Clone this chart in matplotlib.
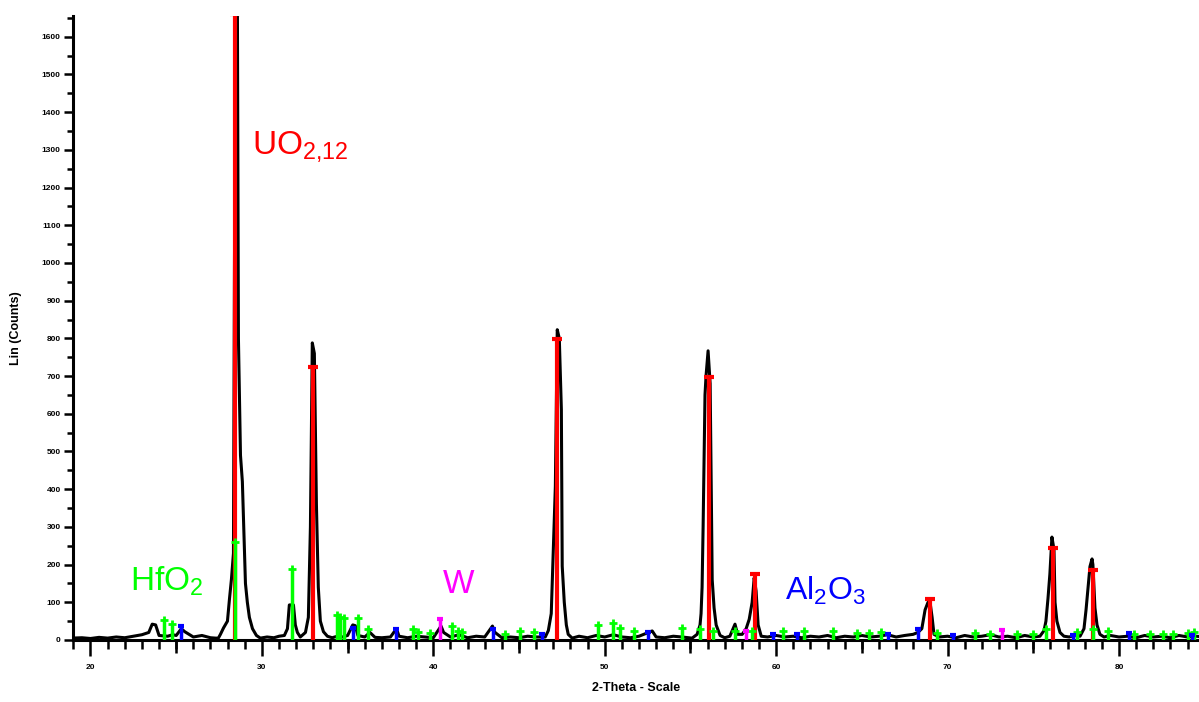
import numpy as np
import matplotlib
matplotlib.use("Agg")
import matplotlib.pyplot as plt
from matplotlib.ticker import MultipleLocator, FixedLocator, NullFormatter

plt.rcParams['font.family'] = ['Liberation Sans', 'DejaVu Sans']
plt.rcParams['mathtext.fontset'] = 'custom'
plt.rcParams['mathtext.rm'] = 'Liberation Sans'
plt.rcParams['mathtext.it'] = 'Liberation Sans'

# measured pattern (2-theta, counts)
two_theta = [18.9, 19.5, 20.0, 20.5, 21.0, 21.5, 22.0, 22.5, 23.0, 23.4, 23.6, 23.8, 24.0, 24.5,
             24.8, 25.0, 25.3, 25.5, 26.0, 26.5, 27.0, 27.3,
             27.46, 27.58, 27.76, 27.99, 28.11, 28.22, 28.34, 28.40, 28.46, 28.57, 28.63, 28.75,
             28.86, 29.04, 29.15, 29.27, 29.45, 29.68, 29.91, 30.3, 30.7, 31.0,
             31.31, 31.49, 31.60, 31.84, 31.95, 32.07, 32.24, 32.54, 32.71, 32.83, 32.94, 33.06,
             33.18, 33.29, 33.41, 33.59, 33.82, 34.1, 34.4, 34.7, 35.0, 35.3, 35.45, 35.6, 36.0,
             36.3, 36.6, 37.0, 37.5, 37.85, 38.0, 38.5, 39.0, 39.5, 40.0, 40.45, 40.6, 41.0, 41.5,
             42.0, 42.5, 43.0, 43.45, 43.6, 44.0, 44.5, 45.0, 45.5, 46.0,
             46.53, 46.71, 46.88, 47.00, 47.12, 47.23, 47.35, 47.47, 47.52, 47.64, 47.76, 47.87,
             48.1, 48.5, 49.0, 49.5, 50.0, 50.5, 51.0, 51.5, 52.0, 52.77, 53.0, 53.5, 54.0, 54.5,
             55.10, 55.39, 55.56, 55.62, 55.68, 55.74, 55.85, 55.91, 56.03, 56.15, 56.27, 56.38,
             56.50, 56.73, 57.0, 57.3, 57.6, 57.75,
             58.02, 58.25, 58.43, 58.60, 58.72, 58.83, 58.95, 59.13, 59.5, 60.0, 60.5, 61.0, 61.5,
             62.0, 62.5, 63.0, 63.5, 64.0, 64.5, 65.0, 65.5, 66.0, 66.5, 67.0, 67.5,
             67.99, 68.27, 68.50, 68.69, 68.86, 68.98, 69.10, 69.21, 69.5, 70.0, 70.5, 71.0, 71.5,
             72.0, 72.5, 73.0, 73.5, 74.0, 74.5, 75.0,
             75.39, 75.63, 75.74, 75.86, 75.97, 76.09, 76.21, 76.27, 76.38, 76.56, 76.79, 77.1, 77.4,
             77.73, 77.96, 78.08, 78.19, 78.31, 78.43, 78.48, 78.60, 78.72, 78.89, 79.13, 79.5,
             80.0, 80.5, 81.0, 81.5, 82.0, 82.5, 83.0, 83.5, 84.0, 84.5, 85.0]
counts = [5, 6, 4, 7, 5, 8, 6, 10, 14, 20, 42, 40, 12, 10,
          14, 12, 30, 22, 8, 12, 6, 5,
          5, 15, 32, 50, 110, 160, 230, 1000, 1680, 1680, 800, 490,
          420, 150, 100, 60, 30, 12, 5, 8, 6, 10,
          12, 30, 93, 93, 40, 20, 8, 20, 60, 300, 788, 760,
          360, 140, 50, 22, 10, 6, 10, 8, 12, 40, 38, 12, 8,
          20, 7, 6, 8, 30, 10, 6, 10, 8, 6, 37, 20, 8, 14,
          6, 10, 8, 37, 20, 6, 8, 6, 10, 8,
          8, 25, 70, 236, 408, 823, 800, 612, 196, 100, 40, 15,
          5, 10, 6, 12, 8, 14, 8, 6, 10, 24, 8, 6, 10, 8,
          5, 15, 40, 70, 140, 300, 650, 700, 767, 680, 160, 85,
          40, 12, 6, 10, 42, 15,
          15, 30, 55, 100, 165, 130, 40, 10, 8, 12, 8, 10, 6,
          10, 8, 12, 6, 10, 8, 12, 8, 10, 14, 8, 12,
          15, 20, 30, 80, 100, 100, 60, 15, 8, 10, 6, 12, 8,
          10, 14, 8, 10, 6, 12, 8,
          10, 25, 50, 110, 175, 273, 240, 100, 50, 20, 10, 8, 12,
          10, 30, 80, 135, 195, 215, 200, 85, 40, 15, 8, 12,
          8, 10, 6, 12, 8, 10, 6, 12, 8, 10, 8]

# reference sticks
uo2_pos = [28.42, 33.0, 47.2, 56.1, 58.78, 68.98, 76.15, 78.48]
uo2_h = [1660, 724, 798, 698, 175, 109, 245, 185]

hfo2_pos = [24.31, 24.78, 28.45, 31.78, 34.40, 34.58, 34.81, 35.63, 36.21, 38.83, 39.1, 39.8,
            41.1, 41.46, 41.7, 44.2, 45.07, 45.9, 49.6, 50.5, 50.9, 51.7, 54.5, 55.57, 56.3,
            57.6, 58.6, 60.4, 61.6, 63.3, 64.7, 65.4, 66.1, 69.4, 71.6, 72.5, 74.05, 75.0,
            75.74, 77.55, 78.5, 79.36, 80.9, 81.8, 82.56, 83.15, 84.0, 84.4]
hfo2_h = [53, 42, 260, 188, 66, 60, 58, 58, 29, 29, 20, 18,
          37, 24, 20, 16, 24, 22, 40, 45, 32, 24, 32, 29, 24,
          24, 24, 24, 24, 24, 18, 18, 20, 18, 18, 15, 15, 15,
          30, 20, 30, 25, 15, 15, 15, 15, 18, 20]

al2o3_pos = [25.3, 35.33, 37.8, 43.5, 46.35, 52.5, 59.83, 61.2, 66.5, 68.3, 70.3, 77.3, 80.6, 84.25]
al2o3_h = [37, 32, 30, 28, 16, 22, 16, 15, 16, 28, 12, 12, 18, 12]

w_pos = [40.41, 58.25, 73.18]
w_h = [56, 24, 27]

fig = plt.figure(figsize=(11.99, 7.02), dpi=100)
ax = fig.add_axes([72.5 / 1199, 62 / 702, 1 - 72.5 / 1199, 624 / 702])

ax.plot(two_theta, counts, color='black', lw=2.2, zorder=2)

ax.vlines(uo2_pos, 0, uo2_h, color='#ff0000', lw=3, zorder=3)
ax.plot(uo2_pos, uo2_h, ls='none', marker='_', ms=7, mew=3, color='#ff0000', zorder=3)
ax.vlines(hfo2_pos, 0, hfo2_h, color='#00ff00', lw=2.5, zorder=3)
ax.plot(hfo2_pos, hfo2_h, ls='none', marker='+', ms=6, mew=2, color='#00ff00', zorder=3)
ax.vlines(al2o3_pos, 0, al2o3_h, color='#0000ff', lw=2.5, zorder=3)
ax.plot(al2o3_pos, al2o3_h, ls='none', marker='_', ms=5, mew=3, color='#0000ff', zorder=3)
ax.vlines(w_pos, 0, w_h, color='#ff00ff', lw=2.5, zorder=3)
ax.plot(w_pos, w_h, ls='none', marker='_', ms=5, mew=3, color='#ff00ff', zorder=3)

ax.text(29.45, 1290, r'UO$_{\mathrm{2{,}12}}$', color='#ff0000', fontsize=24, va='baseline')
ax.text(22.33, 130, r'HfO$_{\mathrm{2}}$', color='#00ff00', fontsize=24, va='baseline')
ax.text(40.58, 125, 'W', color='#ff00ff', fontsize=24, va='baseline')
ax.text(60.53, 106, r'Al$_{\mathrm{2}}$O$_{\mathrm{3}}$', color='#0000ff', fontsize=23, va='baseline')

ax.set_xlim(18.95, 84.67)
ax.set_ylim(0, 1655)

for s in ['top', 'right']:
    ax.spines[s].set_visible(False)
for s in ['left', 'bottom']:
    ax.spines[s].set_linewidth(2.2)

ax.yaxis.set_major_locator(MultipleLocator(100))
ax.yaxis.set_minor_locator(MultipleLocator(50))
ax.tick_params(axis='y', which='major', length=6.5, width=1.8, labelsize=6, pad=2)
ax.tick_params(axis='y', which='minor', length=4, width=1.8)
for lab in ax.get_yticklabels():
    lab.set_fontweight('bold')

ax.xaxis.set_major_locator(MultipleLocator(10))
ax.xaxis.set_minor_locator(MultipleLocator(1))
ax.tick_params(axis='x', which='major', length=11.5, width=1.8, labelsize=6, pad=6)
ax.tick_params(axis='x', which='minor', length=6.5, width=1.8)
for lab in ax.get_xticklabels():
    lab.set_fontweight('bold')

# medium ticks every 5 degrees
sec = ax.secondary_xaxis('bottom')
sec.xaxis.set_major_locator(FixedLocator(np.arange(25, 85, 10)))
sec.xaxis.set_major_formatter(NullFormatter())
sec.tick_params(axis='x', length=9.5, width=1.8)
sec.spines['bottom'].set_visible(False)

ax.set_ylabel('Lin (Counts)', fontsize=9, fontweight='bold', labelpad=14)
ax.set_xlabel('2-Theta - Scale', fontsize=9, fontweight='bold', labelpad=8)

fig.savefig('out.png', dpi=100)
